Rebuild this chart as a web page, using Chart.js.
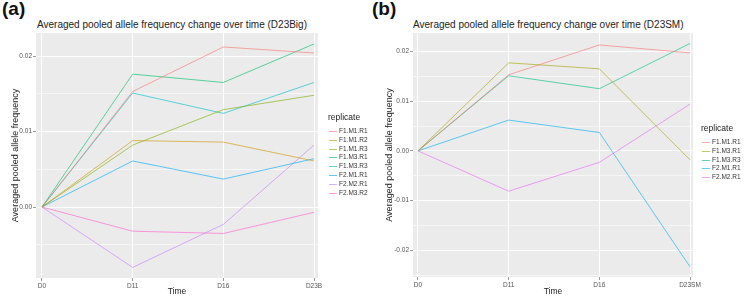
<!DOCTYPE html>
<html><head><meta charset="utf-8">
<script src="https://cdn.jsdelivr.net/npm/chart.js@4/dist/chart.umd.min.js"></script>
<style>
html,body{margin:0;padding:0;background:#fff;width:745px;height:297px;overflow:hidden;font-family:'Liberation Sans',Arial,sans-serif;}
canvas{position:absolute;top:0;}
.lbl{position:absolute;font-weight:bold;font-size:19px;color:#111;}
.ttl{position:absolute;font-size:10px;color:#222;white-space:nowrap;}
.leg{position:absolute;font-size:6.5px;color:#333;}
.leg .hd{font-size:8.5px;color:#222;margin-bottom:5px;}
.leg .it{position:relative;height:8.8px;line-height:8.8px;padding-left:11px;white-space:nowrap;}
.leg .it span{position:absolute;left:1px;top:4px;width:8px;height:1px;}
</style></head><body>
<div class="lbl" style="left:2px;top:-2px;">(a)</div>
<div class="lbl" style="left:372px;top:-2px;">(b)</div>
<div class="ttl" style="left:37px;top:19px;">Averaged pooled allele frequency change over time (D23Big)</div>
<div class="ttl" style="left:413px;top:19px;">Averaged pooled allele frequency change over time (D23SM)</div>
<canvas id="ca" width="330" height="297" style="left:0px;width:330px;height:297px;"></canvas>
<canvas id="cb" width="375" height="297" style="left:370px;width:375px;height:297px;"></canvas>
<div class="leg" id="la" style="left:328px;top:112px;"></div>
<div class="leg" id="lb" style="left:701px;top:123px;"></div>
<script>
// ---- Panel (a): D23Big ----
const timeA = ['D0','D11','D16','D23B'];
const namesA = ['F1.M1.R1','F1.M1.R2','F1.M1.R3','F1.M3.R1','F1.M3.R3','F2.M1.R1','F2.M2.R1','F2.M3.R2'];
const a_F1M1R1 = [0, 0.0153, 0.0212, 0.0204];
const a_F1M1R2 = [0, 0.0088, 0.0086, 0.0061];
const a_F1M1R3 = [0, 0.0082, 0.0129, 0.0148];
const a_F1M3R1 = [0, 0.0176, 0.0165, 0.0216];
const a_F1M3R3 = [0, 0.0151, 0.0124, 0.0165];
const a_F2M1R1 = [0, 0.0061, 0.0037, 0.0064];
const a_F2M2R1 = [0, -0.0080, -0.0023, 0.0082];
const a_F2M3R2 = [0, -0.0032, -0.0035, -0.0007];
const colorsA = ['#F8766D','#CD9600','#7CAE00','#00BE67','#00BFC4','#00A9FF','#C77CFF','#FF61CC'];
const yTicksA = [0, 0.01, 0.02];

// ---- Panel (b): D23SM ----
const timeB = ['D0','D11','D16','D23SM'];
const namesB = ['F1.M1.R1','F1.M3.R1','F1.M3.R3','F2.M1.R1','F2.M2.R1'];
const b_F1M1R1 = [0, 0.0153, 0.0213, 0.0197];
const b_F1M3R1 = [0, 0.0177, 0.0165, -0.0018];
const b_F1M3R3 = [0, 0.0151, 0.0125, 0.0216];
const b_F2M1R1 = [0, 0.0062, 0.0037, -0.0233];
const b_F2M2R1 = [0, -0.0081, -0.0023, 0.0094];
const colorsB = ['#F8766D','#A3A500','#00BF7D','#00B0F6','#E76BF3'];
const yTicksB = [-0.02, -0.01, 0, 0.01, 0.02];

const seriesA = [a_F1M1R1,a_F1M1R2,a_F1M1R3,a_F1M3R1,a_F1M3R3,a_F2M1R1,a_F2M2R1,a_F2M3R2];
const seriesB = [b_F1M1R1,b_F1M3R1,b_F1M3R3,b_F2M1R1,b_F2M2R1];

const FONT = "'Liberation Sans', Arial, sans-serif";
const ALPHA = 0.62;

function hexA(h, a){
  const r=parseInt(h.slice(1,3),16), g=parseInt(h.slice(3,5),16), b=parseInt(h.slice(5,7),16);
  return `rgba(${r},${g},${b},${a})`;
}

const bgPlugin = {
  id:'panelbg',
  beforeDraw(chart){
    const {ctx, chartArea:ca} = chart;
    ctx.save(); ctx.fillStyle='#EBEBEB';
    ctx.fillRect(ca.left, ca.top, ca.right-ca.left, ca.bottom-ca.top);
    ctx.restore();
  }
};

function isMajor(v){ return Math.abs(v/0.01 - Math.round(v/0.01)) < 1e-6; }

function build(id, cats, names, series, colors, majors, cfg){
  const datasets = names.map((n,i)=>({
    label:n,
    data: series[i].map((v,j)=>({x:j,y:v})),
    borderColor: hexA(colors[i],ALPHA),
    backgroundColor: hexA(colors[i],ALPHA),
    borderWidth:1, pointRadius:0, tension:0, fill:false
  }));
  const yVals = [];
  const lo = Math.min(...majors)-0.01;
  majors.forEach(m=>yVals.push(m));
  [lo,...majors].forEach(m=>yVals.push(m+0.005));
  return new Chart(document.getElementById(id), {
    type:'line',
    data:{datasets},
    plugins:[bgPlugin],
    options:{
      responsive:false, animation:false, devicePixelRatio:1,
      layout:{padding:{top:33,right:cfg.padRight,left:0,bottom:0}},
      plugins:{legend:{display:false}, tooltip:{enabled:false}},
      scales:{
        x:{
          type:'linear', min:cfg.xMin, max:cfg.xMax,
          afterBuildTicks(s){ s.ticks = cats.map((c,i)=>({value:i})); },
          afterFit(s){ s.height = cfg.xH; },
          ticks:{ callback:(v)=>cats[v], font:{family:FONT,size:6.5}, color:'#555', padding:1, maxRotation:0, autoSkip:false },
          grid:{ color:'#FFFFFF', lineWidth:1, tickLength:3, tickColor:'#999', drawTicks:true },
          border:{display:false},
          title:{display:true, text:'Time', font:{family:FONT,size:8.5}, color:'#222', padding:{top:0,bottom:0}}
        },
        y:{
          type:'linear', min:cfg.yMin, max:cfg.yMax,
          afterBuildTicks(s){ s.ticks = yVals.filter(v=>v>cfg.yMin && v<cfg.yMax).sort((a,b)=>a-b).map(v=>({value:v})); },
          afterFit(s){ s.width = cfg.yW; },
          ticks:{ callback:(v)=> isMajor(v) ? (Math.abs(v)<1e-9 ? '0.00' : v.toFixed(2)) : '', font:{family:FONT,size:6.5}, color:'#555', padding:1, autoSkip:false },
          grid:{
            color:(c)=> isMajor(c.tick.value) ? '#FFFFFF' : 'rgba(255,255,255,0.55)',
            lineWidth:1, tickLength:3,
            tickColor:(c)=> isMajor(c.tick.value) ? '#999' : 'rgba(0,0,0,0)'
          },
          border:{display:false},
          title:{display:true, text:'Averaged pooled allele frequency', font:{family:FONT,size:9}, color:'#222', padding:{top:cfg.yTitlePad,bottom:0}}
        }
      }
    }
  });
}

build('ca', timeA, namesA, seriesA, colorsA, yTicksA, {
  padRight: 12, xH: 19, yW: 36, yTitlePad: 10,
  xMin: -0.066, xMax: 3.044, yMin: -0.0094, yMax: 0.02305
});
build('cb', timeB, namesB, seriesB, colorsB, yTicksB, {
  padRight: 52, xH: 20, yW: 43, yTitlePad: 14,
  xMin: -0.055, xMax: 3.033, yMin: -0.02535, yMax: 0.0237
});

function legend(id, names, colors){
  const el = document.getElementById(id);
  let h = '<div class="hd">replicate</div>';
  names.forEach((n,i)=>{ h += `<div class="it"><span style="background:${hexA(colors[i],ALPHA)}"></span>${n}</div>`; });
  el.innerHTML = h;
}
legend('la', namesA, colorsA);
legend('lb', namesB, colorsB);
</script>
</body></html>
